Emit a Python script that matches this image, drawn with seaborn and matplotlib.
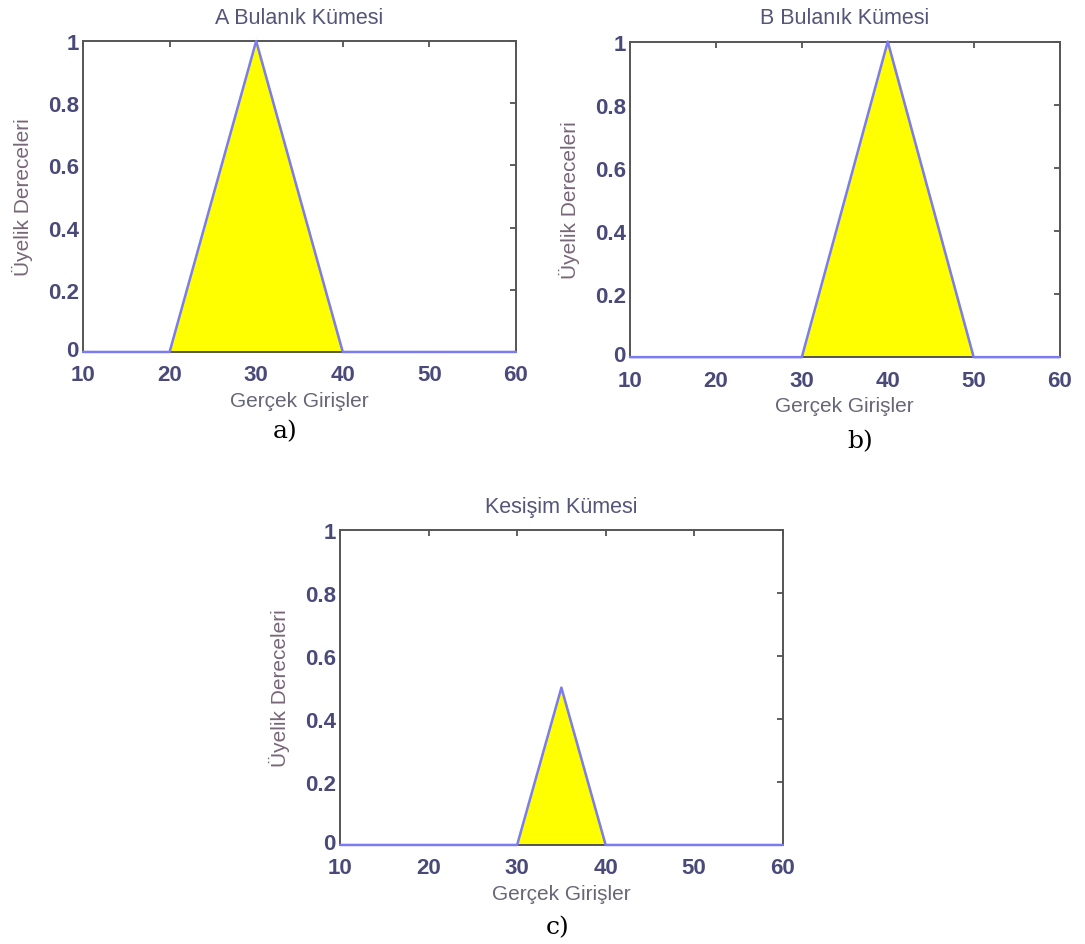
import numpy as np
import pandas as pd
import matplotlib
matplotlib.use('Agg')
import matplotlib.pyplot as plt
import matplotlib.transforms as mtransforms
import seaborn as sns

sns.set_style('white')
plt.rcParams['font.family'] = ['Liberation Sans', 'DejaVu Sans']

# üyelik fonksiyonlari (köse noktalari)
x_a = [10, 20, 30, 40, 60]
y_a = [0, 0, 1, 0, 0]
x_b = [10, 30, 40, 50, 60]
y_b = [0, 0, 1, 0, 0]
x_c = [10, 30, 35, 40, 60]
y_c = [0, 0, 0.5, 0, 0]

basliklar = ['A Bulanık Kümesi', 'B Bulanık Kümesi', 'Kesişim Kümesi']
etiketler = ['a)', 'b)', 'c)']
x_ticks = [10, 20, 30, 40, 50, 60]
y_ticks = [0, 0.2, 0.4, 0.6, 0.8, 1]
y_ticklabels = ['0', '0.2', '0.4', '0.6', '0.8', '1']

fig = plt.figure(figsize=(10.85, 9.45), dpi=100)
kutular = [[0.0765, 0.6265, 0.399, 0.329],
           [0.5806, 0.621, 0.396, 0.334],
           [0.3134, 0.1048, 0.408, 0.333]]
harf_yer = [(0.263, 0.543), (0.793, 0.533), (0.514, 0.018)]

veriler = [(x_a, y_a), (x_b, y_b), (x_c, y_c)]
for i, (xs, ys) in enumerate(veriler):
    ax = fig.add_axes(kutular[i])
    df = pd.DataFrame({'x': xs, 'y': ys})
    ax.fill_between(df['x'], df['y'], color='#ffff00', zorder=1)
    sns.lineplot(data=df, x='x', y='y', ax=ax, color='#7b7bf2', linewidth=1.8,
                 zorder=3, clip_on=False)
    ax.set_xlim(10, 60)
    ax.set_ylim(0, 1)
    ax.set_xticks(x_ticks)
    ax.set_yticks(y_ticks)
    ax.set_yticklabels(y_ticklabels)
    ax.tick_params(direction='in', top=True, right=True, length=4, width=1.2,
                   colors='#444444', labelcolor='#4a4a7a', labelsize=16)
    ax.tick_params(axis='x', pad=9)
    ax.tick_params(axis='y', pad=3)
    for lab in ax.get_xticklabels() + ax.get_yticklabels():
        lab.set_fontweight('bold')
    # "0" etiketini biraz yukari al
    sifir = ax.get_yticklabels()[0]
    sifir.set_transform(sifir.get_transform() +
                        mtransforms.ScaledTranslation(0, 3 / 72, fig.dpi_scale_trans))
    for s in ax.spines.values():
        s.set_color('#555555')
        s.set_linewidth(1.4)
    ax.set_title(basliklar[i], fontsize=15.5, color='#55557a', pad=13)
    ax.set_xlabel('Gerçek Girişler', fontsize=15, color='#666677', labelpad=4)
    ax.set_ylabel('Üyelik Dereceleri', fontsize=15, color='#776677', labelpad=11)
    fig.text(harf_yer[i][0], harf_yer[i][1], etiketler[i], fontsize=18,
             family='DejaVu Serif', color='black', ha='center', va='center')

fig.savefig('out.png', dpi=100, facecolor='white')
